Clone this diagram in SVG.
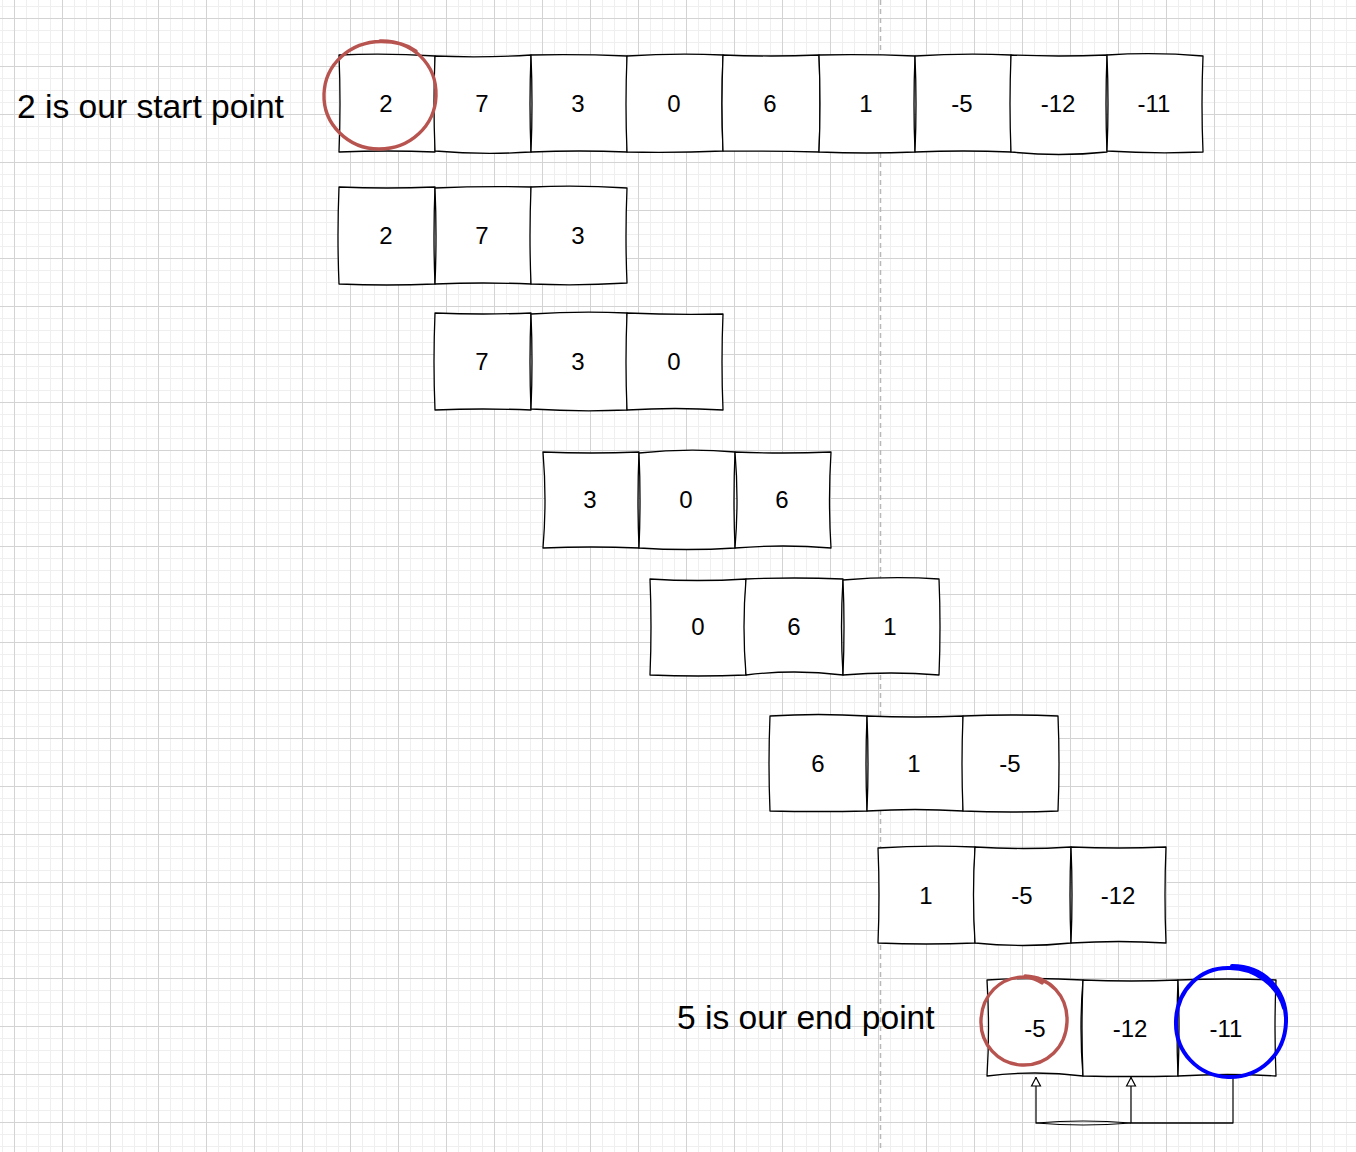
<svg xmlns="http://www.w3.org/2000/svg" width="1356" height="1152" viewBox="0 0 1356 1152">
<style>
.cell{fill:#ffffff;stroke:#000000;stroke-width:1.3;stroke-linejoin:round}
.num{font-family:"Liberation Sans",Arial,Helvetica,sans-serif;font-size:24px;text-anchor:middle;fill:#000000}
.lbl{font-family:"Liberation Sans",Arial,Helvetica,sans-serif;font-size:33.6px;fill:#000000}
.red{fill:none;stroke:#b85450;stroke-width:3.4;stroke-linecap:round}
.blue{fill:none;stroke:#0000ff;stroke-width:4;stroke-linecap:round}
.conn{fill:none;stroke:#000000;stroke-width:1.2}
</style>
<defs>
<pattern id="grid" patternUnits="userSpaceOnUse" x="14" y="18" width="48" height="48">
<rect x="0" y="0" width="48" height="48" fill="#ffffff"/>
<g fill="#efefef">
<rect x="12" y="0" width="1" height="48"/><rect x="24" y="0" width="1" height="48"/><rect x="36" y="0" width="1" height="48"/>
<rect x="0" y="12" width="48" height="1"/><rect x="0" y="24" width="48" height="1"/><rect x="0" y="36" width="48" height="1"/>
</g>
<g fill="#d3d3d3">
<rect x="0" y="0" width="1" height="48"/><rect x="0" y="0" width="48" height="1"/>
</g>
</pattern>
<marker id="arr" viewBox="0 0 10 12" refX="10" refY="6" markerWidth="10" markerHeight="12" markerUnits="userSpaceOnUse" orient="auto">
<path d="M1 1.5L9.5 6L1 10.5Z" fill="#ffffff" stroke="#000000" stroke-width="1.2"/>
</marker>
</defs>
<g id="background">
<rect x="0" y="0" width="1356" height="1152" fill="url(#grid)"/>
<line x1="880.5" y1="0" x2="880.5" y2="1152" stroke="#b8b8b8" stroke-width="1.5" stroke-dasharray="5 4"/>
</g>

<g id="label-start"><text class="lbl" x="17" y="117.5">2 is our start point</text></g>
<g id="label-end"><text class="lbl" x="677" y="1029">5 is our end point</text></g>

<g id="row1">
<g id="r1c1"><path class="cell" d="M339 55Q387 53 435 56Q436 104 435 152Q387 150 339 152Q341 104 339 55Z"/><text class="num" x="386" y="112">2</text></g>
<g id="r1c2"><path class="cell" d="M435 56Q483 58 531 55Q529 104 531 152Q483 155 435 151Q433 104 435 56Z"/><text class="num" x="482" y="112">7</text></g>
<g id="r1c3"><path class="cell" d="M531 55Q579 54 627 56Q629 104 627 152Q579 150 531 152Q533 104 531 55Z"/><text class="num" x="578" y="112">3</text></g>
<g id="r1c4"><path class="cell" d="M627 56Q675 53 723 55Q721 104 723 151Q675 153 627 152Q625 104 627 56Z"/><text class="num" x="674" y="112">0</text></g>
<g id="r1c5"><path class="cell" d="M723 55Q771 57 819 55Q821 104 819 152Q771 151 723 151Q721 104 723 55Z"/><text class="num" x="770" y="112">6</text></g>
<g id="r1c6"><path class="cell" d="M819 55Q867 54 915 56Q913 104 915 152Q867 154 819 152Q821 104 819 55Z"/><text class="num" x="866" y="112">1</text></g>
<g id="r1c7"><path class="cell" d="M915 56Q963 53 1011 55Q1013 104 1011 152Q963 150 915 152Q917 104 915 56Z"/><text class="num" x="962" y="112">-5</text></g>
<g id="r1c8"><path class="cell" d="M1011 55Q1059 57 1107 55Q1105 104 1107 152Q1059 157 1011 152Q1009 104 1011 55Z"/><text class="num" x="1058" y="112">-12</text></g>
<g id="r1c9"><path class="cell" d="M1107 55Q1155 52 1203 56Q1201 104 1203 152Q1155 154 1107 151Q1109 104 1107 55Z"/><text class="num" x="1154" y="112">-11</text></g>
</g>

<g id="row2">
<g id="r2c1"><path class="cell" d="M339 187Q387 189 435 187Q433 236 435 284Q387 286 339 284Q337 236 339 187Z"/><text class="num" x="386" y="244">2</text></g>
<g id="r2c2"><path class="cell" d="M435 188Q483 186 531 187Q533 236 531 284Q483 282 435 284Q437 236 435 188Z"/><text class="num" x="482" y="244">7</text></g>
<g id="r2c3"><path class="cell" d="M531 187Q579 185 627 188Q625 236 627 283Q579 286 531 284Q529 236 531 187Z"/><text class="num" x="578" y="244">3</text></g>
</g>

<g id="row3">
<g id="r3c1"><path class="cell" d="M435 313Q483 315 531 313Q529 362 531 410Q483 408 435 410Q433 362 435 313Z"/><text class="num" x="482" y="370">7</text></g>
<g id="r3c2"><path class="cell" d="M531 314Q579 311 627 313Q629 362 627 410Q579 412 531 409Q533 362 531 314Z"/><text class="num" x="578" y="370">3</text></g>
<g id="r3c3"><path class="cell" d="M627 313Q675 315 723 314Q721 362 723 410Q675 407 627 410Q625 362 627 313Z"/><text class="num" x="674" y="370">0</text></g>
</g>

<g id="row4">
<g id="r4c1"><path class="cell" d="M543 452Q591 454 639 452Q637 500 639 548Q591 546 543 548Q547 500 543 452Z"/><text class="num" x="590" y="508">3</text></g>
<g id="r4c2"><path class="cell" d="M639 453Q687 448 735 452Q733 500 735 548Q687 551 639 548Q641 500 639 453Z"/><text class="num" x="686" y="508">0</text></g>
<g id="r4c3"><path class="cell" d="M735 452Q783 454 831 452Q828 500 831 548Q783 544 735 548Q739 500 735 452Z"/><text class="num" x="782" y="508">6</text></g>
</g>

<g id="row5">
<g id="r5c1"><path class="cell" d="M650 579Q698 582 746 579Q744 627 746 675Q698 677 650 675Q652 627 650 579Z"/><text class="num" x="698" y="635">0</text></g>
<g id="r5c2"><path class="cell" d="M746 579Q794 577 843 579Q840 627 843 675Q794 669 746 675Q742 627 746 579Z"/><text class="num" x="794" y="635">6</text></g>
<g id="r5c3"><path class="cell" d="M843 580Q891 576 939 579Q941 627 939 675Q891 671 843 675Q845 627 843 580Z"/><text class="num" x="890" y="635">1</text></g>
</g>

<g id="row6">
<g id="r6c1"><path class="cell" d="M770 716Q818 713 867 716Q865 764 867 811Q818 812 770 811Q768 764 770 716Z"/><text class="num" x="818" y="772">6</text></g>
<g id="r6c2"><path class="cell" d="M867 716Q915 718 963 716Q965 764 963 811Q915 808 867 811Q869 764 867 716Z"/><text class="num" x="914" y="772">1</text></g>
<g id="r6c3"><path class="cell" d="M963 716Q1011 714 1058 716Q1060 764 1058 811Q1011 813 963 811Q961 764 963 716Z"/><text class="num" x="1010" y="772">-5</text></g>
</g>

<g id="row7">
<g id="r7c1"><path class="cell" d="M878 848Q926 845 975 847Q973 895 975 943Q926 945 878 943Q880 895 878 848Z"/><text class="num" x="926" y="903.5">1</text></g>
<g id="r7c2"><path class="cell" d="M975 847Q1023 850 1071 847Q1069 895 1071 943Q1023 948 975 943Q972 895 975 847Z"/><text class="num" x="1022" y="903.5">-5</text></g>
<g id="r7c3"><path class="cell" d="M1071 847Q1119 849 1166 847Q1164 895 1166 943Q1119 940 1071 943Q1073 895 1071 847Z"/><text class="num" x="1118" y="903.5">-12</text></g>
</g>

<g id="row8">
<g id="r8c1"><path class="cell" d="M987 980Q1035 977 1083 980Q1079 1028 1083 1076Q1035 1070 987 1076Q990 1028 987 980Z"/><text class="num" x="1035" y="1036.5">-5</text></g>
<g id="r8c2"><path class="cell" d="M1083 980Q1131 982 1178 980Q1176 1028 1178 1076Q1131 1077 1083 1076Q1081 1028 1083 980Z"/><text class="num" x="1130" y="1036.5">-12</text></g>
<g id="r8c3"><path class="cell" d="M1178 980Q1227 978 1276 980Q1274 1028 1276 1076Q1227 1073 1178 1076Q1180 1028 1178 980Z"/><text class="num" x="1226" y="1036.5">-11</text></g>
</g>

<g id="connectors">
<path class="conn" d="M1233 1076L1233 1123L1131 1123L1131 1077" marker-end="url(#arr)"/>
<path class="conn" d="M1233 1123L1131 1123Q1083 1119 1036 1123L1036 1077" marker-end="url(#arr)"/>
<path class="conn" d="M1131 1123Q1083 1127 1036 1123"/>
</g>

<g id="circle-start">
<path class="red" d="M380 41C412 40 437 64 436 96C435 126 410 149 379 149C348 149 323 124 324 94C325 64 350 42 381 41.5C396 41.5 408 45 416 51"/>
</g>
<g id="circle-end">
<path class="red" d="M1025 976C1050 977 1068 996 1067 1022C1066 1047 1047 1066 1022 1065C998 1064 980 1044 981 1020C982 995 1000 977 1024 977C1032 977.5 1038 980 1042 983"/>
</g>
<g id="circle-last">
<path class="blue" d="M1232 966C1265 966 1287 991 1286 1022C1285 1054 1260 1078 1228 1077C1198 1076 1175 1052 1176 1021C1177 990 1200 967 1230 968C1255 968 1278 985 1284 1008"/>
</g>
</svg>
